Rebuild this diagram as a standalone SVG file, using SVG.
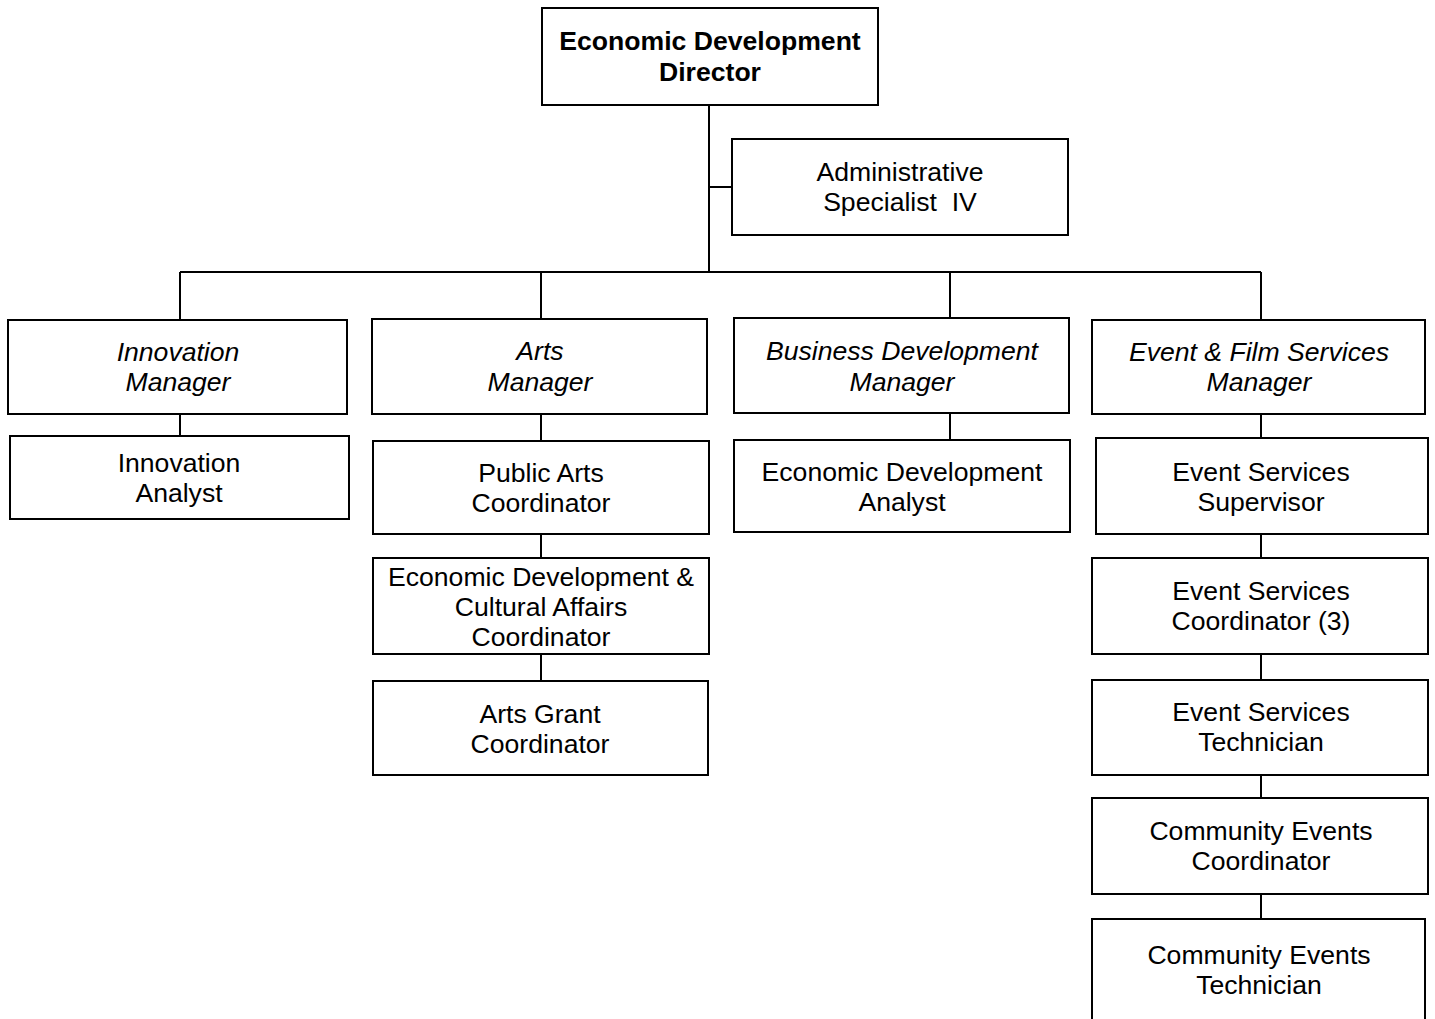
<svg xmlns="http://www.w3.org/2000/svg" width="1435" height="1019" viewBox="0 0 1435 1019">
<style>
  .box { fill: #fff; stroke: #000; stroke-width: 2; }
  .t { font-family: "Liberation Sans", Arial, sans-serif; font-size: 26.6px; fill: #000; text-anchor: middle; white-space: pre; }
  .b { font-weight: bold; }
  .i { font-style: italic; }
  .c { stroke: #000; stroke-width: 2; fill: none; }
</style>
<rect width="1435" height="1019" fill="#fff"/>
<g id="connectors">
  <path class="c" d="M709 105 V271"/>
  <path class="c" d="M709 187 H732"/>
  <path class="c" d="M180 272 H1261"/>
  <path class="c" d="M180 272 V320"/>
  <path class="c" d="M541 272 V319"/>
  <path class="c" d="M950 272 V318"/>
  <path class="c" d="M1261 272 V320"/>
  <path class="c" d="M180 414 V436"/>
  <path class="c" d="M541 414 V441"/>
  <path class="c" d="M541 534 V558"/>
  <path class="c" d="M541 654 V681"/>
  <path class="c" d="M950 413 V440"/>
  <path class="c" d="M1261 414 V438"/>
  <path class="c" d="M1261 534 V558"/>
  <path class="c" d="M1261 654 V680"/>
  <path class="c" d="M1261 775 V798"/>
  <path class="c" d="M1261 894 V919"/>
</g>
<g id="director">
  <rect class="box" x="542" y="8" width="336" height="97"/>
  <text class="t b" x="710" y="50">Economic Development</text>
  <text class="t b" x="710" y="81">Director</text>
</g>
<g id="admin">
  <rect class="box" x="732" y="139" width="336" height="96"/>
  <text class="t" x="900" y="181">Administrative</text>
  <text class="t" x="900" y="211" xml:space="preserve">Specialist  IV</text>
</g>
<g id="innovation-manager">
  <rect class="box" x="8" y="320" width="339" height="94"/>
  <text class="t i" x="178" y="361">Innovation</text>
  <text class="t i" x="178" y="391">Manager</text>
</g>
<g id="arts-manager">
  <rect class="box" x="372" y="319" width="335" height="95"/>
  <text class="t i" x="540" y="360">Arts</text>
  <text class="t i" x="540" y="391">Manager</text>
</g>
<g id="business-manager">
  <rect class="box" x="734" y="318" width="335" height="95"/>
  <text class="t i" x="902" y="360">Business Development</text>
  <text class="t i" x="902" y="391">Manager</text>
</g>
<g id="event-film-manager">
  <rect class="box" x="1092" y="320" width="333" height="94"/>
  <text class="t i" x="1259" y="361">Event &amp; Film Services</text>
  <text class="t i" x="1259" y="391">Manager</text>
</g>
<g id="innovation-analyst">
  <rect class="box" x="10" y="436" width="339" height="83"/>
  <text class="t" x="179" y="472">Innovation</text>
  <text class="t" x="179" y="502">Analyst</text>
</g>
<g id="public-arts">
  <rect class="box" x="373" y="441" width="336" height="93"/>
  <text class="t" x="541" y="482">Public Arts</text>
  <text class="t" x="541" y="512">Coordinator</text>
</g>
<g id="econ-cultural">
  <rect class="box" x="373" y="558" width="336" height="96"/>
  <text class="t" x="541" y="586">Economic Development &amp;</text>
  <text class="t" x="541" y="616">Cultural Affairs</text>
  <text class="t" x="541" y="646">Coordinator</text>
</g>
<g id="arts-grant">
  <rect class="box" x="373" y="681" width="335" height="94"/>
  <text class="t" x="540" y="723">Arts Grant</text>
  <text class="t" x="540" y="753">Coordinator</text>
</g>
<g id="econ-analyst">
  <rect class="box" x="734" y="440" width="336" height="92"/>
  <text class="t" x="902" y="481">Economic Development</text>
  <text class="t" x="902" y="511">Analyst</text>
</g>
<g id="event-supervisor">
  <rect class="box" x="1096" y="438" width="332" height="96"/>
  <text class="t" x="1261" y="481">Event Services</text>
  <text class="t" x="1261" y="511">Supervisor</text>
</g>
<g id="event-coordinator">
  <rect class="box" x="1092" y="558" width="336" height="96"/>
  <text class="t" x="1261" y="600">Event Services</text>
  <text class="t" x="1261" y="630">Coordinator (3)</text>
</g>
<g id="event-technician">
  <rect class="box" x="1092" y="680" width="336" height="95"/>
  <text class="t" x="1261" y="721">Event Services</text>
  <text class="t" x="1261" y="751">Technician</text>
</g>
<g id="community-coordinator">
  <rect class="box" x="1092" y="798" width="336" height="96"/>
  <text class="t" x="1261" y="840">Community Events</text>
  <text class="t" x="1261" y="870">Coordinator</text>
</g>
<g id="community-technician">
  <rect class="box" x="1092" y="919" width="333" height="110"/>
  <text class="t" x="1259" y="964">Community Events</text>
  <text class="t" x="1259" y="994">Technician</text>
</g>
</svg>
